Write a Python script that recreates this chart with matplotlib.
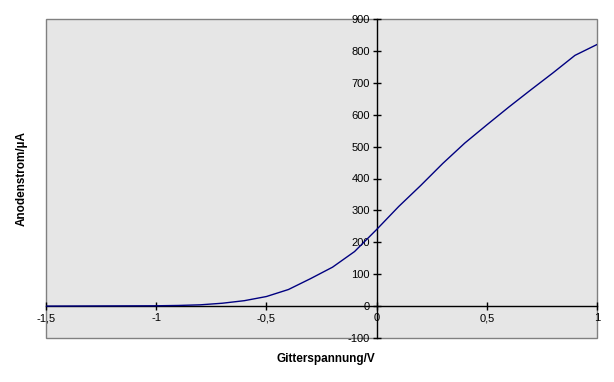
import matplotlib
matplotlib.use("Agg")
import matplotlib.pyplot as plt
from matplotlib.patches import Rectangle

# Data
grid_voltage = [-1.5, -1.0, -0.9, -0.8, -0.7, -0.6, -0.5, -0.4, -0.3, -0.2, -0.1, 0.0,
                0.1, 0.2, 0.3, 0.4, 0.5, 0.6, 0.7, 0.8, 0.9, 1.0]
anode_current = [0, 1, 2, 4, 9, 17, 30, 52, 86, 122, 171, 240,
                 312, 378, 447, 511, 568, 624, 678, 731, 786, 820]

x_ticks = [-1.5, -1.0, -0.5, 0.0, 0.5, 1.0]
x_tick_labels = ["-1,5", "-1", "-0,5", "0", "0,5", "1"]
y_ticks = [-100, 0, 100, 200, 300, 400, 500, 600, 700, 800, 900]

plt.rcParams['font.family'] = ['Liberation Sans', 'DejaVu Sans']
plt.rcParams['axes.unicode_minus'] = False

fig = plt.figure(figsize=(6.14, 3.82), dpi=100)
ax = fig.add_axes([46/614, 1 - 338/382, (597-46)/614, (338-19)/382])
ax.set_facecolor('#e6e6e6')

ax.plot(grid_voltage, anode_current, color='#000080', lw=1.0, zorder=3)

ax.set_xlim(-1.5, 1.0)
ax.set_ylim(-100, 900)

for s in ['top', 'right']:
    ax.spines[s].set_visible(False)
ax.spines['left'].set_position(('data', 0))
ax.spines['bottom'].set_position(('data', 0))
ax.spines['left'].set_color('black')
ax.spines['bottom'].set_color('black')
ax.spines['left'].set_linewidth(1.0)
ax.spines['bottom'].set_linewidth(1.0)

ax.add_patch(Rectangle((0, 0), 1, 1, transform=ax.transAxes, fill=False,
                       edgecolor='#808080', lw=1.0, clip_on=False, zorder=1))

ax.set_xticks(x_ticks)
ax.set_xticklabels(x_tick_labels)
ax.set_yticks(y_ticks)
ax.tick_params(axis='both', direction='inout', length=6, width=1, labelsize=8,
               colors='black', pad=2)

fig.text(326/614, 1 - 359/382, "Gitterspannung/V", ha='center', va='center',
         fontsize=8.5, fontweight='bold')
fig.text(22/614, 1 - 178/382, "Anodenstrom/µA", ha='center', va='center',
         fontsize=8.5, fontweight='bold', rotation=90)

fig.savefig("out.png", dpi=100)
